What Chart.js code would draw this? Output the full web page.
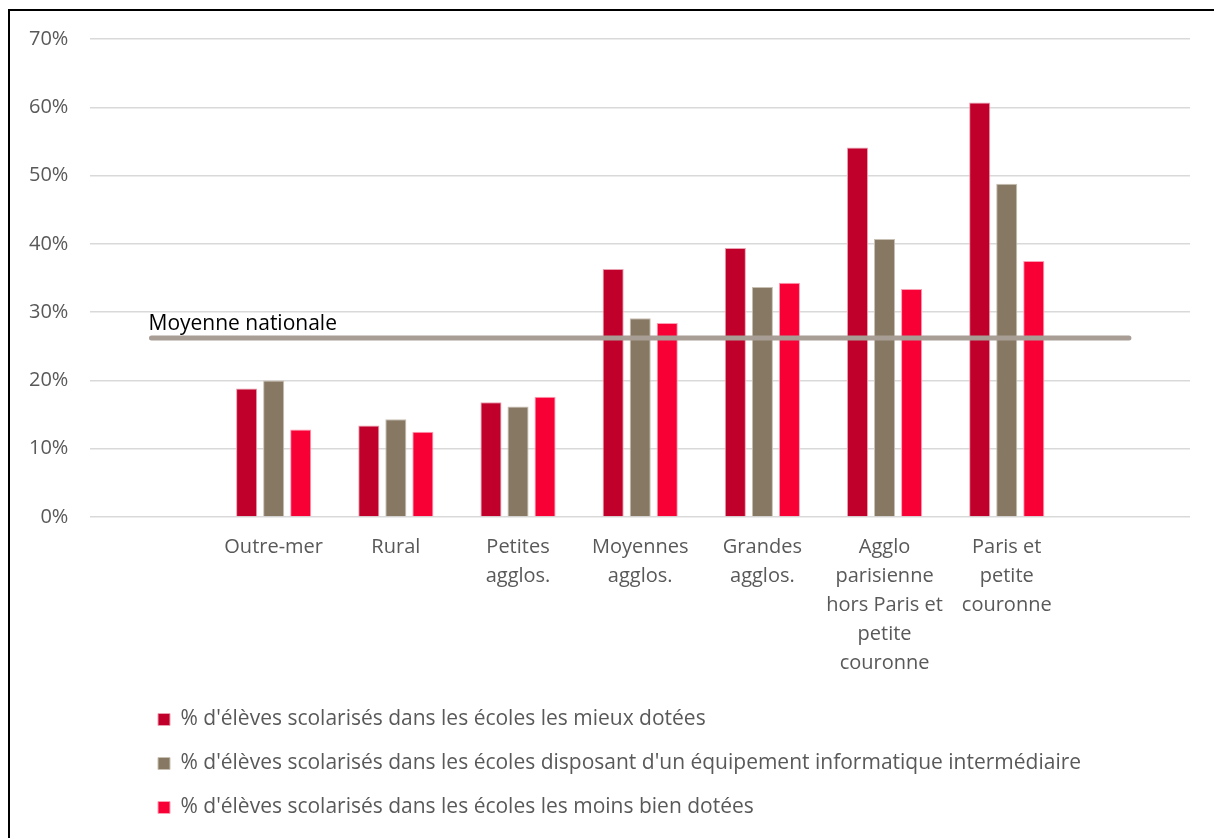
<!DOCTYPE html>
<html lang="fr">
<head>
<meta charset="utf-8">
<title>Équipement informatique des écoles</title>
<script src="https://cdn.jsdelivr.net/npm/chart.js@4/dist/chart.umd.min.js"></script>
<style>
  html, body { margin: 0; padding: 0; background: #fff; }
  body { width: 1214px; height: 838px; overflow: hidden; position: relative; }
  #frame {
    position: absolute; left: 8px; top: 9px; width: 1220px; height: 860px;
    border-left: 2px solid #000; border-top: 2px solid #000;
  }
  #wrap { position: absolute; left: 0; top: 5px; width: 1210px; height: 833px; }
</style>
</head>
<body>
<div id="frame"></div>
<div id="wrap"><canvas id="chart"></canvas></div>
<script>
// Categories (empty slots at both ends keep the national line wider than the bars)
const categories = [
  '',
  'Outre-mer',
  'Rural',
  ['Petites', 'agglos.'],
  ['Moyennes', 'agglos.'],
  ['Grandes', 'agglos.'],
  ['Agglo', 'parisienne', 'hors Paris et', 'petite', 'couronne'],
  ['Paris et', 'petite', 'couronne'],
  ''
];

const seriesNames = [
  "% d'élèves scolarisés dans les écoles les mieux dotées",
  "% d'élèves scolarisés dans les écoles disposant d'un équipement informatique intermédiaire",
  "% d'élèves scolarisés dans les écoles les moins bien dotées"
];

const mieuxDotees      = [null, 18.8, 13.4, 16.8, 36.3, 39.4, 54.1, 60.7, null];
const intermediaire    = [null, 20.0, 14.3, 16.2, 29.1, 33.7, 40.7, 48.8, null];
const moinsBienDotees  = [null, 12.8, 12.5, 17.6, 28.4, 34.3, 33.4, 37.5, null];

const moyenneNationale = 26.2;
const moyenneLabel = 'Moyenne nationale';

const yTicks = [0, 10, 20, 30, 40, 50, 60, 70];

const FONT = "'Open Sans', sans-serif";
const GREY_TEXT = '#595959';

// Writes the label just above the start of the national average line
const avgLabelPlugin = {
  id: 'avgLabel',
  afterDatasetsDraw(chart) {
    const meta = chart.getDatasetMeta(3);
    const first = meta.data[0];
    if (!first) return;
    const ctx = chart.ctx;
    ctx.save();
    ctx.font = "21px 'Open Sans', sans-serif";
    ctx.fillStyle = '#000';
    ctx.textAlign = 'left';
    ctx.textBaseline = 'alphabetic';
    ctx.fillText(moyenneLabel, first.x - 3, first.y - 8);
    ctx.restore();
  }
};

// Move the legend block right, under the plot
const legendShift = {
  id: 'legendShift',
  afterLayout(chart) {
    chart.legend.left = 135;
  }
};

const ctx = document.getElementById('chart').getContext('2d');
new Chart(ctx, {
  data: {
    labels: categories,
    datasets: [
      {
        type: 'bar',
        label: seriesNames[0],
        data: mieuxDotees,
        backgroundColor: '#C0002B',
        borderColor: '#E9A0B0',
        borderWidth: 1,
        order: 1
      },
      {
        type: 'bar',
        label: seriesNames[1],
        data: intermediaire,
        backgroundColor: '#877863',
        borderColor: '#C9C0B4',
        borderWidth: 1,
        order: 1
      },
      {
        type: 'bar',
        label: seriesNames[2],
        data: moinsBienDotees,
        backgroundColor: '#F80036',
        borderColor: '#FBA0B4',
        borderWidth: 1,
        order: 1
      },
      {
        type: 'line',
        label: moyenneLabel,
        data: categories.map(() => moyenneNationale),
        borderColor: '#A89E95',
        borderWidth: 5,
        borderCapStyle: 'round',
        pointRadius: 0,
        fill: false,
        order: 0
      }
    ]
  },
  options: {
    responsive: true,
    maintainAspectRatio: false,
    animation: false,
    layout: { padding: { top: 13, right: 20, bottom: 10, left: 7 } },
    datasets: {
      bar: { categoryPercentage: 0.664, barPercentage: 0.78 }
    },
    scales: {
      x: {
        grid: { display: false },
        border: { display: false },
        ticks: {
          color: GREY_TEXT,
          font: { family: FONT, size: 20, lineHeight: 1.45 },
          maxRotation: 0,
          autoSkip: false,
          padding: 8
        }
      },
      y: {
        min: 0,
        max: 70,
        afterBuildTicks: axis => { axis.ticks = yTicks.map(v => ({ value: v })); },
        grid: { color: '#D9D9D9', lineWidth: 1.5, drawTicks: false },
        border: { display: false },
        ticks: {
          color: GREY_TEXT,
          font: { family: FONT, size: 20 },
          padding: 22,
          callback: v => v + '%'
        }
      }
    },
    plugins: {
      tooltip: { enabled: false },
      legend: {
        position: 'bottom',
        align: 'start',
        labels: {
          color: GREY_TEXT,
          font: { family: FONT, size: 21 },
          boxWidth: 12,
          boxHeight: 12,
          padding: 23,
          filter: item => item.datasetIndex < 3
        }
      }
    }
  },
  plugins: [avgLabelPlugin, legendShift]
});
</script>
</body>
</html>
